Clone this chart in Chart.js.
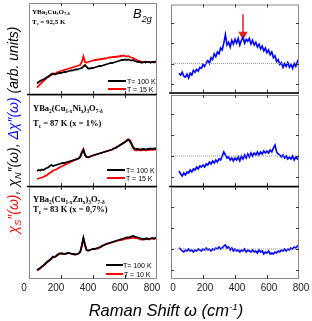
<!DOCTYPE html>
<html>
<head>
<meta charset="utf-8">
<script src="https://cdn.jsdelivr.net/npm/chart.js@4.4.0/dist/chart.umd.min.js"></script>
<style>
body { margin: 0; background: #fff; }
#wrap { position: relative; width: 312px; height: 321px; overflow: hidden; font-family: "Liberation Sans", Arial, sans-serif; }
canvas { position: absolute; }
.note { position: absolute; font-family: "Liberation Serif", "Times New Roman", serif; font-weight: bold; white-space: nowrap; line-height: 1; z-index: 2; }
.note .s { font-size: 0.62em; position: relative; top: 0.3em; }
.leg { position: absolute; font-size: 7px; line-height: 1; white-space: nowrap; z-index: 2; }
.legline { position: absolute; height: 0; border-top: 2px solid #000; z-index: 2; }
.sub { font-size: 0.65em; position: relative; top: 0.3em; }
.sup { font-size: 0.6em; position: relative; top: -0.6em; }
</style>
</head>
<body>
<div id="wrap">
  <canvas id="c1"></canvas><canvas id="c2"></canvas><canvas id="c3"></canvas>
  <canvas id="c4"></canvas><canvas id="c5"></canvas><canvas id="c6"></canvas>

  <div class="note" style="left:32px;top:9px;font-size:7px">YBa<span class="s">2</span>Cu<span class="s">3</span>O<span class="s">7-δ</span></div>
  <div class="note" style="left:32px;top:19px;font-size:7px">T<span class="s">c</span> = 92,5 K</div>
  <div class="note" style="left:33px;top:104px;font-size:8.5px">YBa<span class="s">2</span>(Cu<span class="s">1-x</span>Ni<span class="s">x</span>)<span class="s">3</span>O<span class="s">7-δ</span></div>
  <div class="note" style="left:33px;top:119px;font-size:8.5px">T<span class="s">c</span> = 87 K (x = 1%)</div>
  <div class="note" style="left:33px;top:195px;font-size:8.5px">YBa<span class="s">2</span>(Cu<span class="s">1-x</span>Zn<span class="s">x</span>)<span class="s">3</span>O<span class="s">7-δ</span></div>
  <div class="note" style="left:33px;top:205px;font-size:8.5px">T<span class="s">c</span> = 83 K (x = 0,7%)</div>

  <div style="position:absolute;left:133px;top:7px;font-size:13px;font-style:italic;line-height:1;z-index:2">B<span style="font-size:9px;position:relative;top:4px">2g</span></div>

  <div class="legline" style="left:108px;top:80px;width:18px"></div>
  <div class="leg" style="left:127px;top:78px">T= 100 K</div>
  <div class="legline" style="left:108px;top:88px;width:18px;border-color:#f00"></div>
  <div class="leg" style="left:127px;top:86px">T = 15 K</div>

  <div class="legline" style="left:107px;top:169px;width:18px"></div>
  <div class="leg" style="left:126px;top:167px">T= 100 K</div>
  <div class="legline" style="left:107px;top:177px;width:18px;border-color:#f00"></div>
  <div class="leg" style="left:126px;top:175px">T = 15 K</div>

  <div class="legline" style="left:106px;top:264px;width:17px"></div>
  <div class="leg" style="left:123px;top:262px">T= 100 K</div>
  <div class="legline" style="left:106px;top:273px;width:17px;border-color:#f00"></div>
  <div class="leg" style="left:124px;top:271px">T = 10 K</div>

  <div style="position:absolute;left:13px;top:130px;transform:translate(-50%,-50%) rotate(-90deg);font-size:14px;font-style:italic;white-space:nowrap;line-height:1;z-index:2"><span style="color:#f00">χ<span class="sub">S</span>″(ω)</span>, χ<span class="sub">N</span>″(ω), <span style="color:#00f">Δχ″(ω)</span> (arb. units)</div>
  <div style="position:absolute;left:166px;top:310px;transform:translate(-50%,-50%);font-size:16.5px;font-style:italic;white-space:nowrap;line-height:1;z-index:2">Raman Shift ω (cm<span class="sup">-1</span>)</div>
</div>

<script>
// Raman shift grid (cm-1)
const ramanShift = [50,60,70,80,90,100,110,120,130,140,150,160,170,180,190,200,210,220,230,240,
  250,260,270,280,290,300,310,320,330,340,350,360,370,380,390,400,410,420,430,440,
  450,460,470,480,490,500,510,520,530,540,550,560,570,580,590,600,610,620,630,640,
  650,660,670,680,690,700,710,720,730,740,750,760,770,780,790,800];
const xTicks = [0, 200, 400, 600, 800];

// YBa2Cu3O7-d
const p1Normal = [11.5,13,14,15,15.5,16.5,17.5,18.5,19.5,21,21.5,20.5,21,21.5,22,22,22.5,23,23,23.5,
  24,24.5,24.5,25,25.5,25.5,26,26.5,27,28.5,30,28,26.5,26.5,27,27,27.5,28,28.5,29,
  29,29.5,30,30.5,31,31.5,32,32,32.5,33,33.5,34,34.5,35,35,35.5,35,35.5,35,34.5,
  35,34,33.5,33,33,32.5,32.5,33,32.5,33,33,32.5,33,33,33.5,33];
const p1Super = [7.5,9,11,12.5,14,15.5,17,18,19,20,21,21.5,22,23,23.5,24,24.5,25,25.5,26,
  26.5,27,27.5,28,28.5,29,29.5,30,33,38.5,33,32.5,33,33.5,34,34.5,35,35,35.5,35.5,
  36,36,36.5,36.5,37,37.5,37.5,38,38,38,38.5,38.5,39,39,39.5,39,38.5,39,38,37.5,
  37,36,35.5,34.5,34,33.5,33,33,33.5,33,33,32.5,33,32.5,33,32.5];
const p1Diff = [21,19,22,18,17,20,16,21,19,24,22,25,23,27,26,30,28,32,34,31,
  37,35,41,38,43,41,47,45,52,61,50,53,48,55,51,56,52,57,50,55,
  58,52,56,54,57,51,55,50,53,48,51,46,49,44,47,42,45,40,43,37,
  39,33,35,30,32,27,31,28,32,27,30,26,31,28,33,36];
const p1Zero = 31;

// YBa2(Cu1-xNix)3O7-d, x = 1%
const p2Normal = [16,17,16.5,17.5,17,18,19,19.5,21,22,21,21.5,22,22.5,23,23.5,24,24,24.5,25,
  25.5,26,26.5,27,27.5,28,28.5,30,34,37,32,30,30,30.5,31,31.5,32,32.5,33,33.5,
  34,34.5,35,35.5,36,36.5,37,37.5,38.5,39,40,41,42,43,44,45,46,47.5,46,43,
  40,38.5,38,38,37.5,37.5,38,38,37.5,38,38,38.5,38,38.5,38.5,38];
const p2Super = [8,8.5,9,9.5,10,11,11.5,13,14,15,16.5,17,17.5,18.5,19.5,20.5,21,22,22.5,23.5,
  24,25,25.5,26.5,27,28,28.5,30,35,38,32,30,29.5,30,31,31.5,32,32.5,33,33.5,
  34,34.5,35,35.5,36,36.5,37,37.5,38.5,39,40,41,42,43,44,45,46.5,47.5,47,44,
  39,37,36.5,37,37,36.5,37,37,36.5,37,37,37.5,37,37.5,37.5,37];
const p2Diff = [16,13,11,14,12,15,14,17,15,18,17,20,18,21,20,22,20,23,22,25,
  23,26,24,27,25,28,27,31,35,32,29,30,27,29,26,29,27,30,26,31,
  28,32,29,33,30,34,31,34,32,35,32,35,33,36,34,36,34,37,35,39,
  42,35,33,32,30,32,29,31,28,30,28,31,27,30,28,30];
const p2Zero = 31;

// YBa2(Cu1-xZnx)3O7-d, x = 0.7%
const p3Normal = [9,10,11,12.5,13.5,15,16.5,18,19,20.5,22.5,22,23,24.5,25.5,25.5,25.5,25,25.5,26,
  26,25.5,25,25,24.5,25,25.5,27,33,41,34,29,28.5,29,29.5,30,30,30.5,31,31.5,
  32.5,33.5,34,35,35.5,36,36.5,37,37.5,38,38.5,39,39.5,40,40.5,41,41.5,41.5,42,42.5,
  43,42.5,42,41.5,41,40.5,40,40,40.5,40.5,40,40.5,41,40.5,41,40.5];
const p3Super = [8.5,9.5,10.5,12,13.5,15,16.5,17.5,19,20.5,22,22,23,24,25,25.5,25,25,25,25.5,
  26,25.5,25,24.5,24.5,25,25.5,27,33.5,41,34,29,28.5,29,29.5,30,30,30.5,30.5,31.5,
  32,33,34,34.5,35,35.5,36,36.5,37,37.5,38,38.5,39,39,39.5,40,40.5,40.5,41,41,
  41.5,41,41,40.5,40,39.5,39.5,39.5,40,40,39.5,40,40.5,40,40.5,40];
const p3Diff = [31,30,28,27,29,28,30,28,29,27,29,28,30,29,28,30,29,31,29,30,
  28,30,29,31,30,32,30,31,33,34,31,32,29,31,28,30,28,29,27,29,
  28,30,27,29,28,27,29,27,28,26,29,27,28,25,27,26,28,25,26,25,
  27,26,28,27,29,28,30,28,30,29,31,30,32,31,33,34];
const p3Zero = 30;

// arrow marking the pair-breaking peak, top panel right
const arrowShift = 450;
const arrowFrom = 82, arrowTo = 61;

function xy(vals) {
    return ramanShift.map((w, i) => ({x: w, y: vals[i]}));
}

// grey frame, inward ticks, black separator under the upper panels
const framePlugin = {
    id: 'frame',
    afterDatasetsDraw(chart, args, o) {
        const ctx = chart.ctx, a = chart.chartArea, xs = chart.scales.x, ys = chart.scales.y;
        function seg(x1, y1, x2, y2) { ctx.beginPath(); ctx.moveTo(x1, y1); ctx.lineTo(x2, y2); ctx.stroke(); }
        ctx.save();
        ctx.strokeStyle = '#8a8a8a';
        ctx.lineWidth = 1;
        ctx.strokeRect(a.left + 0.5, a.top + 0.5, a.width - 1, a.height - 1);
        ctx.strokeStyle = '#333';
        [200, 400, 600].forEach(v => {
            const px = Math.round(xs.getPixelForValue(v)) + 0.5;
            seg(px, a.bottom, px, a.bottom - 4);
            seg(px, a.top, px, a.top + 3);
        });
        (o.yTicks || []).forEach(v => {
            const py = Math.round(ys.getPixelForValue(v)) + 0.5;
            seg(a.left, py, a.left + 3, py);
            seg(a.right, py, a.right - 3, py);
        });
        if (o.sep) {
            ctx.strokeStyle = '#000';
            ctx.lineWidth = 1.5;
            seg(a.left - 2, a.bottom - 0.5, a.right, a.bottom - 0.5);
        }
        ctx.restore();
    }
};

function makePanel(id, left, top, datasets, bottom, yTicks, labelOffset) {
    const cv = document.getElementById(id);
    cv.width = 168;
    cv.height = bottom ? 114 : 100;
    cv.style.left = (left - 20) + 'px';
    cv.style.top = (top - 4) + 'px';
    const xScale = {
        type: 'linear', min: 0, max: 800, display: bottom,
        grid: {display: false, drawTicks: false}, border: {display: false},
        afterBuildTicks: s => { s.ticks = xTicks.map(v => ({value: v})); },
        ticks: {color: '#222', font: {size: 10, family: '"Liberation Sans", Arial'}, padding: 3,
            maxRotation: 0, autoSkip: false, labelOffset: labelOffset}
    };
    if (bottom) xScale.afterFit = s => { s.height = 18; };
    return new Chart(cv.getContext('2d'), {
        type: 'line',
        data: {datasets: datasets},
        options: {
            responsive: false,
            animation: false,
            events: [],
            layout: {padding: {left: 20, right: 20, top: 4, bottom: bottom ? 0 : 4}},
            plugins: {legend: {display: false}, tooltip: {enabled: false}, frame: {sep: !bottom, yTicks: yTicks}},
            elements: {point: {radius: 0}, line: {tension: 0}},
            scales: {
                x: xScale,
                y: {min: 0, max: 92, display: false}
            }
        },
        plugins: [framePlugin]
    });
}

function leftSets(normal, sup) {
    return [
        {data: xy(normal), borderColor: '#000', borderWidth: 1.8},
        {data: xy(sup), borderColor: '#f00', borderWidth: 1.8}
    ];
}

function rightSets(diff, zero) {
    return [
        {data: [{x: 0, y: zero}, {x: 800, y: zero}], borderColor: '#999', borderWidth: 1, borderDash: [1, 1]},
        {data: xy(diff), borderColor: '#00f', borderWidth: 1.6}
    ];
}

function zeroTicks(zero) {
    return [zero - 21, zero, zero + 21, zero + 42].filter(v => v > 2 && v < 90);
}

makePanel('c1', 29, 3, leftSets(p1Normal, p1Super), false, [], 0);
makePanel('c2', 29, 95, leftSets(p2Normal, p2Super), false, [], 0);
makePanel('c3', 29, 187, leftSets(p3Normal, p3Super), true, [], -5);

const arrowSet = {
    data: [{x: arrowShift, y: arrowFrom}, {x: arrowShift, y: arrowTo}],
    borderColor: '#e02020', backgroundColor: '#e02020', borderWidth: 1.5,
    pointRadius: [0, 4], pointStyle: 'triangle', rotation: 180
};
makePanel('c4', 171, 3, rightSets(p1Diff, p1Zero).concat([arrowSet]), false, zeroTicks(p1Zero), 0);
makePanel('c5', 171, 95, rightSets(p2Diff, p2Zero), false, zeroTicks(p2Zero), 0);
makePanel('c6', 171, 187, rightSets(p3Diff, p3Zero), true, zeroTicks(p3Zero), 2);
</script>
</body>
</html>
